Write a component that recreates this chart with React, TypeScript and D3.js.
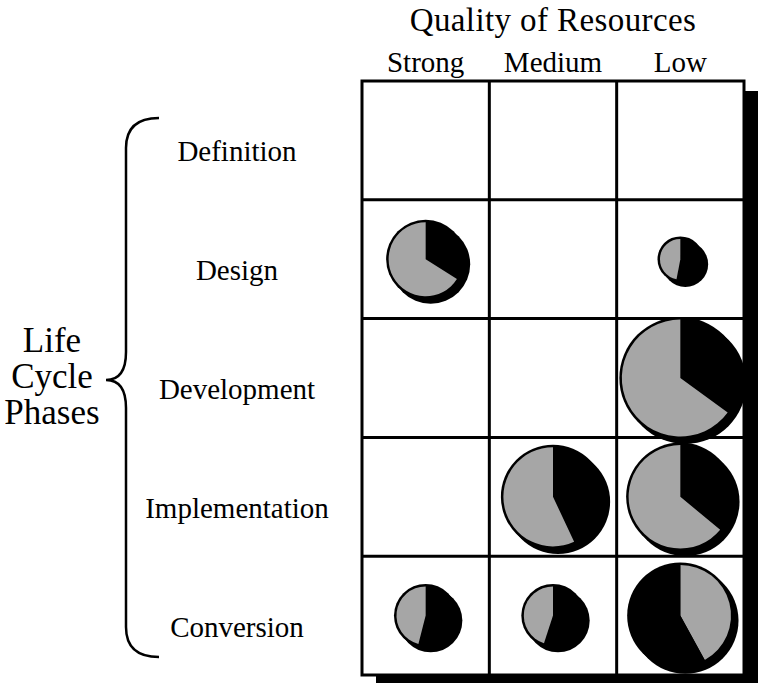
import React from "react";
import * as d3 from "d3";

// rows / columns of the matrix
const phases = ["Definition", "Design", "Development", "Implementation", "Conversion"];
const qualities = ["Strong", "Medium", "Low"];

// one entry per pie
const piePhase = ["Design", "Design", "Development", "Implementation", "Implementation", "Conversion", "Conversion", "Conversion"];
const pieQuality = ["Strong", "Low", "Low", "Medium", "Low", "Strong", "Medium", "Low"];
const pieSize = [42, 14, 100, 73, 79, 27, 27, 76];
const blackShare = [0.34, 0.53, 0.35, 0.43, 0.36, 0.54, 0.55, 0.58];
const blackFirst = [true, true, true, true, true, true, true, false];

const sideLabel = ["Life", "Cycle", "Phases"];

const W = 759;
const H = 683;
const FONT = "'Liberation Serif', 'Times New Roman', serif";
const GRAY = "#a6a6a6";

const App = () => {
  const x = d3.scaleBand().domain(qualities).range([362, 744]);
  const y = d3.scaleBand().domain(phases).range([81, 675]);
  const r = d3.scaleSqrt().domain([0, 100]).range([0, 61]);

  const pie = d3.pie<{ v: number; c: string }>().sort(null).value((d) => d.v);
  const arc = d3.arc<d3.PieArcDatum<{ v: number; c: string }>>().innerRadius(0);

  const gridLeft = x.range()[0];
  const gridRight = x.range()[1];
  const gridTop = y.range()[0];
  const gridBottom = y.range()[1];

  // brace path
  const bx = 126, top = 118, bot = 657, tipY = 380, tipX = 106, endX = 159;
  const brace = d3.path();
  brace.moveTo(endX, top);
  brace.quadraticCurveTo(bx, top, bx, top + 30);
  brace.lineTo(bx, tipY - 28);
  brace.quadraticCurveTo(bx, tipY, tipX, tipY);
  brace.quadraticCurveTo(bx, tipY, bx, tipY + 28);
  brace.lineTo(bx, bot - 30);
  brace.quadraticCurveTo(bx, bot, endX, bot);

  return (
    <svg width={W} height={H} style={{ position: "absolute", left: 0, top: 0, background: "#fff" }}>
      {/* header */}
      <text x={553} y={31} textAnchor="middle" fontFamily={FONT} fontSize={33} letterSpacing={0.4}>
        Quality of Resources
      </text>
      {qualities.map((q) => (
        <text key={q} x={x(q)! + x.bandwidth() / 2} y={72} textAnchor="middle" fontFamily={FONT} fontSize={29}>
          {q}
        </text>
      ))}

      {/* row labels */}
      {phases.map((p) => (
        <text key={p} x={237} y={y(p)! + y.bandwidth() / 2 + 21} textAnchor="middle" fontFamily={FONT} fontSize={29}>
          {p}
        </text>
      ))}

      {/* brace + side label */}
      <path d={brace.toString()} fill="none" stroke="#000" strokeWidth={2.5} />
      {sideLabel.map((s, i) => (
        <text key={s} x={52} y={352 + i * 36} textAnchor="middle" fontFamily={FONT} fontSize={35}>
          {s}
        </text>
      ))}

      {/* grid shadow */}
      <rect x={gridLeft + 14} y={gridTop + 10} width={gridRight - gridLeft} height={gridBottom - gridTop} fill="#000" />
      <rect x={gridLeft} y={gridTop} width={gridRight - gridLeft} height={gridBottom - gridTop} fill="#fff" />

      {/* grid lines */}
      {qualities.slice(1).map((q) => (
        <line key={q} x1={x(q)} x2={x(q)} y1={gridTop} y2={gridBottom} stroke="#000" strokeWidth={3} />
      ))}
      {phases.slice(1).map((p) => (
        <line key={p} x1={gridLeft} x2={gridRight} y1={y(p)} y2={y(p)} stroke="#000" strokeWidth={3} />
      ))}
      <rect x={gridLeft} y={gridTop} width={gridRight - gridLeft} height={gridBottom - gridTop} fill="none" stroke="#000" strokeWidth={3} />

      {/* pies */}
      {piePhase.map((p, i) => {
        const cx = x(pieQuality[i])! + x.bandwidth() / 2;
        const cy = y(p)! + y.bandwidth() / 2;
        const rad = r(pieSize[i]);
        const parts = [
          { v: blackShare[i], c: "#000" },
          { v: 1 - blackShare[i], c: GRAY },
        ];
        const slices = pie(blackFirst[i] ? parts : parts.slice().reverse());
        return (
          <g key={i} transform={`translate(${cx},${cy})`}>
            <circle cx={5} cy={5} r={rad} fill="#000" />
            <circle r={rad} fill="#000" />
            {slices.map((s, j) => (
              <path key={j} d={arc.outerRadius(rad - 2.5)(s) || ""} fill={s.data.c} />
            ))}
          </g>
        );
      })}
    </svg>
  );
};

export default App;
